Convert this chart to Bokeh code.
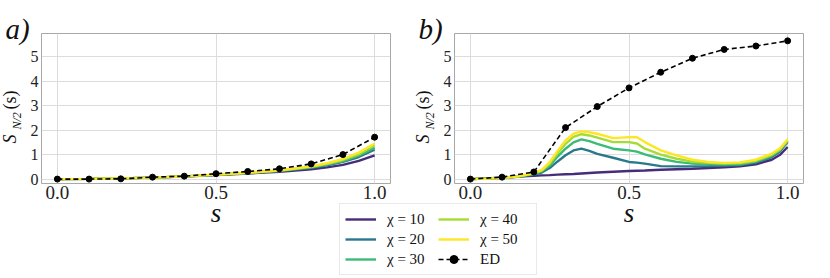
import math
from bokeh.plotting import figure
from bokeh.models import Label, Legend, LegendItem, FixedTicker
from bokeh.layouts import row, column
from bokeh.embed import file_html
from bokeh.resources import INLINE

# ---------------- data ----------------
s_ed = [0.0, 0.1, 0.2, 0.3, 0.4, 0.5, 0.6, 0.7, 0.8, 0.9, 1.0]
ed_a = [0.0, 0.0, 0.01, 0.08, 0.12, 0.22, 0.31, 0.42, 0.62, 1.00, 1.71]
ed_b = [0.0, 0.08, 0.29, 2.10, 2.96, 3.72, 4.36, 4.93, 5.29, 5.43, 5.64]

s_a = [0.0, 0.1, 0.2, 0.3, 0.4, 0.5, 0.6, 0.7, 0.8, 0.85, 0.9, 0.95, 1.0]
a_chi10 = [0.0, 0.01, 0.03, 0.06, 0.10, 0.16, 0.23, 0.30, 0.40, 0.48, 0.58, 0.74, 0.97]
a_chi20 = [0.0, 0.01, 0.03, 0.06, 0.11, 0.17, 0.25, 0.33, 0.46, 0.56, 0.70, 0.90, 1.20]
a_chi30 = [0.0, 0.01, 0.03, 0.06, 0.11, 0.17, 0.25, 0.34, 0.48, 0.59, 0.73, 0.96, 1.28]
a_chi40 = [0.0, 0.01, 0.03, 0.06, 0.11, 0.18, 0.26, 0.35, 0.50, 0.62, 0.78, 1.02, 1.38]
a_chi50 = [0.0, 0.01, 0.03, 0.06, 0.11, 0.18, 0.26, 0.36, 0.52, 0.65, 0.82, 1.08, 1.45]

s_b = [0.0, 0.05, 0.1, 0.15, 0.2, 0.225, 0.25, 0.275, 0.3, 0.325, 0.35, 0.375, 0.4,
       0.45, 0.5, 0.525, 0.55, 0.6, 0.65, 0.7, 0.75, 0.8, 0.85, 0.9, 0.95, 0.975, 1.0]
b_chi10 = [0.0, 0.03, 0.06, 0.10, 0.13, 0.15, 0.16, 0.18, 0.20, 0.21, 0.23, 0.25, 0.27,
           0.30, 0.33, 0.34, 0.35, 0.38, 0.40, 0.42, 0.45, 0.48, 0.52, 0.60, 0.79, 0.98, 1.31]
b_chi20 = [0.0, 0.02, 0.05, 0.09, 0.18, 0.27, 0.45, 0.72, 0.97, 1.17, 1.24, 1.15, 1.03,
           0.87, 0.70, 0.67, 0.63, 0.53, 0.52, 0.52, 0.53, 0.55, 0.57, 0.67, 0.90, 1.12, 1.51]
b_chi30 = [0.0, 0.02, 0.05, 0.10, 0.21, 0.32, 0.55, 0.92, 1.24, 1.50, 1.62, 1.55, 1.44,
           1.24, 1.17, 1.12, 1.01, 0.83, 0.70, 0.63, 0.60, 0.59, 0.60, 0.71, 0.95, 1.17, 1.55]
b_chi40 = [0.0, 0.02, 0.05, 0.10, 0.23, 0.35, 0.62, 1.05, 1.44, 1.72, 1.83, 1.78, 1.69,
           1.51, 1.51, 1.45, 1.24, 1.00, 0.83, 0.71, 0.66, 0.63, 0.65, 0.75, 0.99, 1.20, 1.58]
b_chi50 = [0.0, 0.02, 0.05, 0.11, 0.25, 0.38, 0.69, 1.15, 1.58, 1.85, 1.95, 1.91, 1.85,
           1.67, 1.71, 1.71, 1.51, 1.17, 0.97, 0.79, 0.70, 0.66, 0.68, 0.79, 1.04, 1.25, 1.62]

chi_labels = ["χ = 10", "χ = 20", "χ = 30", "χ = 40", "χ = 50"]
ed_label = "ED"
x_ticks = [0.0, 0.5, 1.0]
y_ticks = [0, 1, 2, 3, 4, 5]
panel_titles = ["a)", "b)"]
y_label_parts = ["S", "N/2", "(s)"]
x_label = "s"

colors = ["#472c7a", "#2a788e", "#3bbb75", "#a5db36", "#fde725"]
SERIF = "Liberation Serif"
TOTAL_W, TOTAL_H = 813, 278


def make_panel(xs, ys, ed, left_border, right_border):
    p = figure(width=left_border + 349 + right_border, height=TOTAL_H,
               frame_width=349, frame_height=150,
               x_range=(-0.05, 1.05), y_range=(-0.18, 5.94),
               output_backend="svg", toolbar_location=None,
               min_border_left=left_border, min_border_right=right_border,
               min_border_top=33, min_border_bottom=TOTAL_H - 33 - 150)
    p.background_fill_color = "white"
    p.border_fill_color = "white"
    p.outline_line_color = "#a8a8a8"
    p.outline_line_width = 1
    p.grid.grid_line_color = "#dcdcdc"
    p.grid.grid_line_width = 1
    p.xaxis.ticker = FixedTicker(ticks=x_ticks)
    p.yaxis.ticker = FixedTicker(ticks=y_ticks)
    p.xaxis.major_label_overrides = {t: f"{t:.1f}" for t in x_ticks}
    for ax in (p.xaxis[0], p.yaxis[0]):
        ax.axis_line_color = None
        ax.major_tick_line_color = None
        ax.minor_tick_line_color = None
        ax.major_tick_out = 0
        ax.major_tick_in = 0
        ax.minor_tick_out = 0
        ax.minor_tick_in = 0
        ax.major_label_text_font = SERIF
        ax.major_label_text_color = "#222222"
    p.xaxis.major_label_text_font_size = "19px"
    p.yaxis.major_label_text_font_size = "16px"
    p.xaxis.major_label_standoff = 2
    p.yaxis.major_label_standoff = 3
    p.xaxis.axis_label = x_label
    p.xaxis.axis_label_text_font = SERIF
    p.xaxis.axis_label_text_font_style = "italic"
    p.xaxis.axis_label_text_font_size = "27px"
    p.xaxis.axis_label_text_color = "#111111"
    p.xaxis.axis_label_standoff = -4

    for yv, c in zip(ys, colors):
        p.line(xs, yv, line_color=c, line_width=2.4)
    p.line(s_ed, ed, line_color="black", line_width=1.6, line_dash="5 3")
    p.scatter(s_ed, ed, size=6, fill_color="black", line_color="black")
    return p


p1 = make_panel(s_a, [a_chi10, a_chi20, a_chi30, a_chi40, a_chi50], ed_a, 41, 14)
p2 = make_panel(s_b, [b_chi10, b_chi20, b_chi30, b_chi40, b_chi50], ed_b, 50, 10)

# transparent overlay holding texts outside the frames and the shared legend
po = figure(width=TOTAL_W, height=TOTAL_H, output_backend="svg", toolbar_location=None,
            x_axis_location=None, y_axis_location=None, min_border=0,
            x_range=(-20, -19), y_range=(-20, -19))
po.background_fill_alpha = 0
po.border_fill_alpha = 0
po.outline_line_color = None
po.grid.visible = False


def wy(y):
    # window y (from top) -> screen y of overlay frame (from bottom)
    return TOTAL_H - y


for title, fx in zip(panel_titles, [41, 454]):
    po.add_layout(Label(x=fx - 36, y=wy(28), x_units="screen", y_units="screen", text=title,
                        text_font=SERIF, text_font_style="italic", text_font_size="29px",
                        text_color="#111111", text_baseline="alphabetic"))
    po.add_layout(Label(x=fx - 32, y=wy(143), x_units="screen", y_units="screen",
                        angle=math.pi / 2, text=y_label_parts[0], text_font=SERIF,
                        text_font_style="italic", text_font_size="18px",
                        text_color="#111111", text_baseline="alphabetic"))
    po.add_layout(Label(x=fx - 25, y=wy(129), x_units="screen", y_units="screen",
                        angle=math.pi / 2, text=y_label_parts[1], text_font=SERIF,
                        text_font_style="italic", text_font_size="12px",
                        text_color="#111111", text_baseline="alphabetic"))
    po.add_layout(Label(x=fx - 32, y=wy(109), x_units="screen", y_units="screen",
                        angle=math.pi / 2, text=y_label_parts[2], text_font=SERIF,
                        text_font_style="normal", text_font_size="18px",
                        text_color="#111111", text_baseline="alphabetic"))

items = []
for lab, c, yv in zip(chi_labels, colors, [b_chi10, b_chi20, b_chi30, b_chi40, b_chi50]):
    r = po.line(s_b, yv, line_color=c, line_width=2.4)
    items.append(LegendItem(label=lab, renderers=[r]))
rl = po.line(s_ed, ed_b, line_color="black", line_width=1.6, line_dash="5 3")
rs = po.scatter(s_ed, ed_b, size=6, fill_color="black", line_color="black")
items.append(LegendItem(label=ed_label, renderers=[rl, rs]))
leg = Legend(items=items, location=(339, wy(275)), orientation="vertical", nrows=3,
             margin=0, padding=5, spacing=0, label_height=20, glyph_height=20,
             glyph_width=31, label_standoff=11, label_width=51,
             label_text_font=SERIF, label_text_font_size="15px", label_text_color="#111111",
             border_line_color="#d4d4d4", border_line_width=1,
             background_fill_color="white", background_fill_alpha=0.9)
po.add_layout(leg)
po.margin = (-TOTAL_H, 0, 0, 0)

layout = column(row(p1, p2), po)
open("out.html", "w").write(file_html(layout, INLINE))
